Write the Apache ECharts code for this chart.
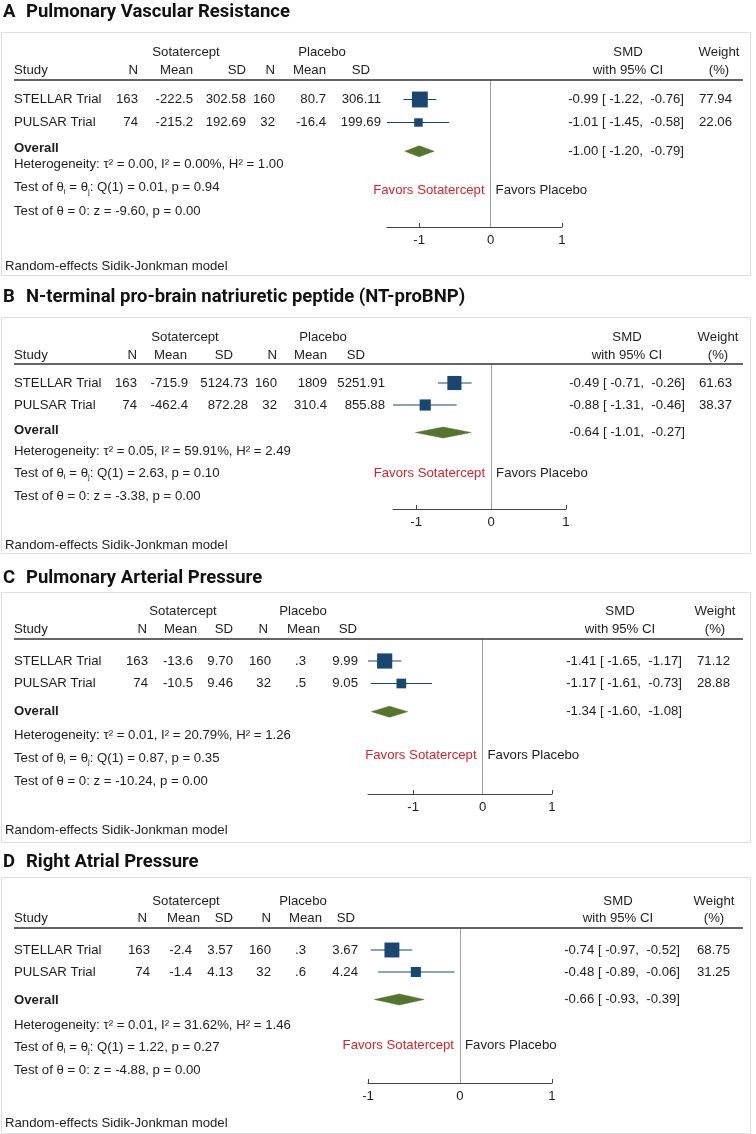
<!DOCTYPE html>
<html><head><meta charset="utf-8">
<script src="https://cdn.jsdelivr.net/npm/echarts@6/dist/echarts.min.js"></script>
<style>html,body{margin:0;padding:0;background:#fff}#c{width:756px;height:1134px}</style>
</head><body><div id="c"></div>
<script>
// ---------------- DATA ----------------
const panelLetters = ['A', 'B', 'C', 'D'];
const panelTitles = ['Pulmonary Vascular Resistance', 'N-terminal pro-brain natriuretic peptide (NT-proBNP)', 'Pulmonary Arterial Pressure', 'Right Atrial Pressure'];
const studies = ['STELLAR Trial', 'PULSAR Trial'];
const sotaN = [[163, 74], [163, 74], [163, 74], [163, 74]];
const sotaMean = [['-222.5', '-215.2'], ['-715.9', '-462.4'], ['-13.6', '-10.5'], ['-2.4', '-1.4']];
const sotaSD = [['302.58', '192.69'], ['5124.73', '872.28'], ['9.70', '9.46'], ['3.57', '4.13']];
const placN = [[160, 32], [160, 32], [160, 32], [160, 32]];
const placMean = [['80.7', '-16.4'], ['1809', '310.4'], ['.3', '.5'], ['.3', '.6']];
const placSD = [['306.11', '199.69'], ['5251.91', '855.88'], ['9.99', '9.05'], ['3.67', '4.24']];
const smd = [[-0.99, -1.01], [-0.49, -0.88], [-1.41, -1.17], [-0.74, -0.48]];
const ciLow = [[-1.22, -1.45], [-0.71, -1.31], [-1.65, -1.61], [-0.97, -0.89]];
const ciHigh = [[-0.76, -0.58], [-0.26, -0.46], [-1.17, -0.73], [-0.52, -0.06]];
const weight = [[77.94, 22.06], [61.63, 38.37], [71.12, 28.88], [68.75, 31.25]];
const overallSmd = [-1.00, -0.64, -1.34, -0.66];
const overallLow = [-1.20, -1.01, -1.60, -0.93];
const overallHigh = [-0.79, -0.27, -1.08, -0.39];
const tau2 = ['0.00', '0.05', '0.01', '0.01'];
const iSq = ['0.00', '59.91', '20.79', '31.62'];
const hSq = ['1.00', '2.49', '1.26', '1.46'];
const qStat = ['0.01', '2.63', '0.87', '1.22'];
const qP = ['0.94', '0.10', '0.35', '0.27'];
const zStat = ['-9.60', '-3.38', '-10.24', '-4.88'];
const zP = ['0.00', '0.00', '0.00', '0.00'];
const axisTicks = [-1, 0, 1];

// ---------------- LAYOUT / STYLE ----------------
const NAVY = '#1a476f', GREEN = '#55752f', RED = '#d3262e', TXT = '#1e1e1e';
const FONT = '"Liberation Sans", Arial, Helvetica, sans-serif';
const FS = 13.2;
const TITLE_FONT = 'bold 18.5px Roboto, "Liberation Sans", sans-serif';
const TRIAL_ROWS = [1, 2];
const OVERALL_ROW = 3.25;
const SQ_K = 1.8;
const DIAMOND_HALF = 5.5;
const LAYOUT = [
  {title: 12, boxTop: 32, boxBot: 275, hdr1: 52, hdr2: 70, line: 80, row1: 99.5, pitch: 23, overall: 148, het: 164.5, t1: 187.5, t2: 211, favors: 190, axis: 227, random: 266,
   gl: 387, gr: 562, valX: [138, 193, 246, 275, 326, 381], hdrX: [138, 193, 246, 275, 326, 370], sotaX: 186, placX: 322, ciX: 684, wX: 732, smdC: 628, wC: 719},
  {title: 297, boxTop: 317, boxBot: 553, hdr1: 337, hdr2: 355, line: 364, row1: 383, pitch: 22, overall: 430, het: 451, t1: 473, t2: 496, favors: 473, axis: 509, random: 545,
   gl: 393, gr: 566, valX: [137, 188, 248, 277, 327, 385], hdrX: [137, 187, 233, 277, 327, 365], sotaX: 185, placX: 323, ciX: 685, wX: 732, smdC: 627, wC: 718},
  {title: 578, boxTop: 592, boxBot: 842, hdr1: 611, hdr2: 629, line: 639, row1: 661, pitch: 22.5, overall: 711, het: 735, t1: 758, t2: 781, favors: 755, axis: 794, random: 830,
   gl: 368, gr: 552, valX: [148, 193, 233, 271, 306, 358], hdrX: [147, 197, 233, 268, 320, 357], sotaX: 183, placX: 303, ciX: 682, wX: 730, smdC: 620, wC: 715},
  {title: 862, boxTop: 877, boxBot: 1133, hdr1: 901, hdr2: 918, line: 928, row1: 950, pitch: 22, overall: 1000, het: 1025, t1: 1047, t2: 1070, favors: 1045, axis: 1083, random: 1123,
   gl: 368, gr: 552, valX: [150, 192, 233, 271, 306, 358], hdrX: [147, 200, 233, 271, 322, 355], sotaX: 186, placX: 303, ciX: 680, wX: 730, smdC: 618, wC: 714}
];

const chart = echarts.init(document.getElementById('c'), null, {renderer: 'canvas'});
const option = {animation: false, backgroundColor: '#fff', grid: [], xAxis: [], yAxis: [], series: []};

for (let p = 0; p < 4; p++) {
  const L = LAYOUT[p];
  const xmin = Math.min(-1, ...ciLow[p], overallLow[p]);
  const yMin = 1 - (L.row1 - L.line) / L.pitch;
  const yMax = 1 + (L.axis - L.row1) / L.pitch;
  option.grid.push({left: L.gl, width: L.gr - L.gl, top: L.line, height: L.axis - L.line});
  option.xAxis.push({
    gridIndex: p, type: 'value', min: xmin, max: 1,
    axisLine: {show: true, onZero: false, lineStyle: {color: '#444', width: 1}},
    axisTick: {show: true, inside: true, length: 4, customValues: axisTicks, lineStyle: {color: '#444'}},
    axisLabel: {customValues: axisTicks, fontSize: FS, fontFamily: FONT, color: TXT, margin: 7, formatter: v => String(v)},
    splitLine: {show: false}
  });
  option.yAxis.push({gridIndex: p, type: 'value', inverse: true, min: yMin, max: yMax, show: false});

  option.series.push({
    type: 'custom', xAxisIndex: p, yAxisIndex: p, silent: true, z: 2,
    data: studies.map((s, i) => [ciLow[p][i], ciHigh[p][i], TRIAL_ROWS[i]]),
    encode: {x: [0, 1], y: 2},
    renderItem: (params, api) => {
      const a = api.coord([api.value(0), api.value(2)]);
      const b = api.coord([api.value(1), api.value(2)]);
      return {type: 'line', shape: {x1: a[0], y1: a[1], x2: b[0], y2: b[1]}, style: {stroke: NAVY, lineWidth: 1}};
    },
    markLine: {silent: true, symbol: ['none', 'none'], label: {show: false}, animation: false,
      lineStyle: {color: '#a0a0a0', width: 1, type: 'solid'}, data: [{xAxis: 0}]}
  });
  option.series.push({
    type: 'scatter', xAxisIndex: p, yAxisIndex: p, silent: true, z: 3,
    symbol: 'rect',
    symbolSize: d => SQ_K * Math.sqrt(d[2]),
    itemStyle: {color: NAVY, opacity: 1},
    data: studies.map((s, i) => [smd[p][i], TRIAL_ROWS[i], weight[p][i]])
  });
  option.series.push({
    type: 'custom', xAxisIndex: p, yAxisIndex: p, silent: true, z: 3,
    data: [[overallSmd[p], overallLow[p], overallHigh[p], OVERALL_ROW]],
    encode: {x: [0, 1, 2], y: 3},
    renderItem: (params, api) => {
      const c = api.coord([api.value(0), api.value(3)]);
      const l = api.coord([api.value(1), api.value(3)]);
      const r = api.coord([api.value(2), api.value(3)]);
      return {type: 'polygon', shape: {points: [[l[0], c[1]], [c[0], c[1] - DIAMOND_HALF], [r[0], c[1]], [c[0], c[1] + DIAMOND_HALF]]},
        style: {fill: GREEN, stroke: GREEN, lineWidth: 0.5}};
    }
  });
}
chart.setOption(option);

// ---------------- TEXT / FRAME ----------------
function T(x, y, text, o) {
  const st = Object.assign({text: text, fill: TXT, font: FS + 'px ' + FONT, align: 'left', verticalAlign: 'middle'}, o || {});
  st.textAlign = st.align; st.textVerticalAlign = st.verticalAlign;
  return {type: 'text', x: x, y: y, silent: true, z: 10, style: st};
}
const R = {align: 'right'}, C = {align: 'center'};
const f2 = v => v.toFixed(2);
const ciText = (s, lo, hi) => `${f2(s)} [ ${f2(lo)},  ${f2(hi)}]`;
const els = [];
const hdrLabels = ['N', 'Mean', 'SD', 'N', 'Mean', 'SD'];

for (let p = 0; p < 4; p++) {
  const L = LAYOUT[p];
  els.push({type: 'rect', silent: true, z: 1, shape: {x: 1.5, y: L.boxTop + 0.5, width: 749, height: L.boxBot - L.boxTop},
    style: {fill: 'none', stroke: '#dedede', lineWidth: 1}});
  els.push({type: 'line', silent: true, z: 5, shape: {x1: 14, y1: L.line, x2: 743, y2: L.line}, style: {stroke: '#333', lineWidth: 1.5}});
  els.push(T(3, L.title, panelLetters[p], {font: TITLE_FONT, fill: '#111'}));
  els.push(T(26, L.title, panelTitles[p], {font: TITLE_FONT, fill: '#111'}));
  els.push(T(L.sotaX, L.hdr1, 'Sotatercept', C));
  els.push(T(L.placX, L.hdr1, 'Placebo', C));
  els.push(T(L.smdC, L.hdr1, 'SMD', C));
  els.push(T(L.wC, L.hdr1, 'Weight', C));
  els.push(T(14, L.hdr2, 'Study'));
  hdrLabels.forEach((h, k) => els.push(T(L.hdrX[k], L.hdr2, h, R)));
  els.push(T(L.smdC, L.hdr2, 'with 95% CI', C));
  els.push(T(L.wC, L.hdr2, '(%)', C));

  studies.forEach((s, i) => {
    const y = chart.convertToPixel({gridIndex: p}, [0, TRIAL_ROWS[i]])[1];
    els.push(T(14, y, s));
    const vals = [String(sotaN[p][i]), sotaMean[p][i], sotaSD[p][i], String(placN[p][i]), placMean[p][i], placSD[p][i]];
    vals.forEach((v, k) => els.push(T(L.valX[k], y, v, R)));
    els.push(T(L.ciX, y, ciText(smd[p][i], ciLow[p][i], ciHigh[p][i]), R));
    els.push(T(L.wX, y, f2(weight[p][i]), R));
  });
  const yo = chart.convertToPixel({gridIndex: p}, [0, OVERALL_ROW])[1];
  els.push(T(14, L.overall, 'Overall', {font: 'bold ' + FS + 'px ' + FONT}));
  els.push(T(L.ciX, yo, ciText(overallSmd[p], overallLow[p], overallHigh[p]), R));
  els.push(T(14, L.het, `Heterogeneity: τ² = ${tau2[p]}, I² = ${iSq[p]}%, H² = ${hSq[p]}`));
  els.push(T(14, L.t1, `Test of θ{s|i} = θ{s|j}: Q(1) = ${qStat[p]}, p = ${qP[p]}`,
    {rich: {s: {fontSize: 8, fontFamily: FONT, fill: TXT, padding: [8, 0, 0, 0]}}}));
  els.push(T(14, L.t2, `Test of θ = 0: z = ${zStat[p]}, p = ${zP[p]}`));
  const zx = chart.convertToPixel({gridIndex: p}, [0, OVERALL_ROW])[0];
  els.push(T(zx - 6, L.favors, 'Favors Sotatercept', {align: 'right', fill: RED}));
  els.push(T(zx + 5, L.favors, 'Favors Placebo'));
  els.push(T(5, L.random, 'Random-effects Sidik-Jonkman model'));
}
chart.setOption({graphic: {elements: els}});
</script></body></html>
